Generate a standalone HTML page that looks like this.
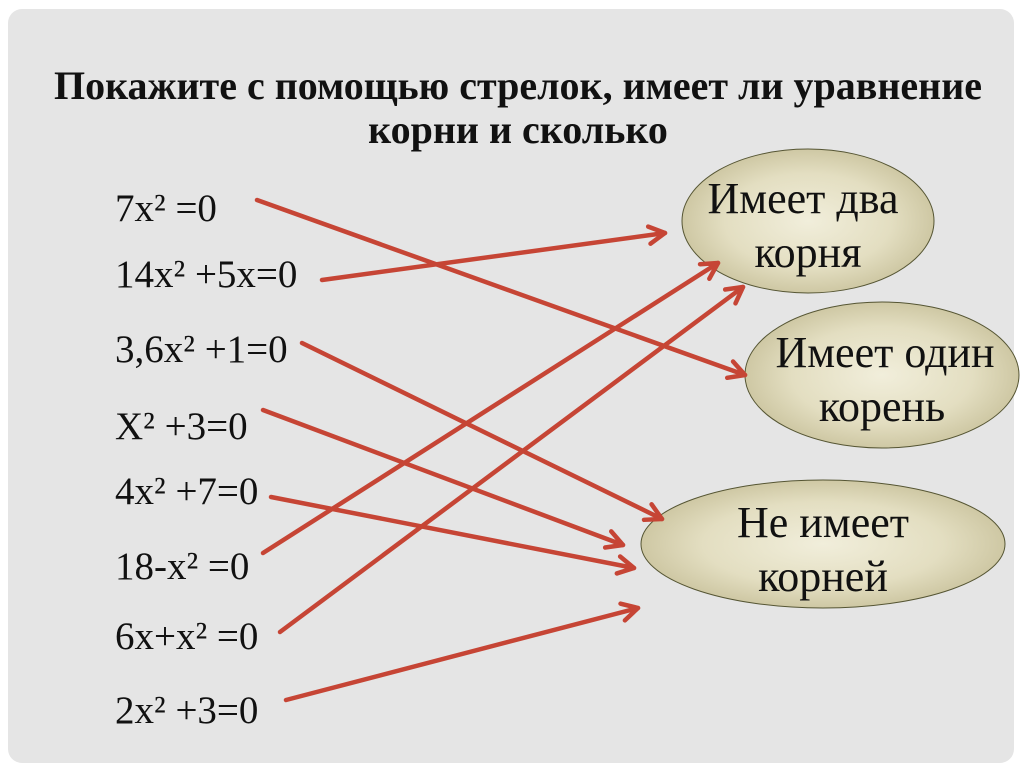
<!DOCTYPE html>
<html><head><meta charset="utf-8"><style>
html,body{margin:0;padding:0;background:#fff;}
.wrap{position:relative;width:1024px;height:767px;overflow:hidden;background:#fff;}
.panel{position:absolute;left:8px;top:9px;width:1006px;height:754px;background:#e5e5e5;border-radius:14px;}
svg{position:absolute;left:0;top:0;}
.t{font-family:"Liberation Serif",serif;}
</style></head><body><div class="wrap"><div class="panel"></div>
<svg width="1024" height="767" viewBox="0 0 1024 767">
<defs>
<radialGradient id="g" cx="50%" cy="50%" r="55%">
<stop offset="0" stop-color="#f1eedb"/><stop offset="0.6" stop-color="#e3dec1"/><stop offset="1" stop-color="#c8c19b"/>
</radialGradient>
</defs>
<g class="t" font-weight="bold" font-size="40" text-anchor="middle" fill="#111">
<text x="518" y="99">Покажите с помощью стрелок, имеет ли уравнение</text>
<text x="518" y="143">корни  и сколько</text>
</g>
<g stroke="#555533" stroke-width="1" fill="url(#g)">
<ellipse cx="808" cy="221" rx="126" ry="72"/>
<ellipse cx="882" cy="375" rx="137" ry="73"/>
<ellipse cx="823" cy="544" rx="182" ry="64"/>
</g>
<g class="t" font-size="44" text-anchor="middle" fill="#111">
<text x="803" y="213">Имеет два</text>
<text x="808" y="267">корня</text>
<text x="885" y="367">Имеет один</text>
<text x="882" y="421">корень</text>
<text x="823" y="537">Не имеет</text>
<text x="823" y="591">корней</text>
</g>
<g class="t" font-size="39" fill="#111">
<text x="115" y="221">7x² =0</text>
<text x="115" y="287">14x² +5x=0</text>
<text x="115" y="362">3,6x² +1=0</text>
<text x="115" y="439">X² +3=0</text>
<text x="115" y="504">4x² +7=0</text>
<text x="115" y="579">18-x² =0</text>
<text x="115" y="649">6x+x² =0</text>
<text x="115" y="723">2x² +3=0</text>
</g>
<g stroke="#c64535" stroke-width="4.5" fill="none" stroke-linecap="round" stroke-linejoin="round" id="arr"></g>
</svg>
<script>
var A=[[257,200,745,375],[322,280,665,233],[302,343,662,519],[263,410,623,545],[271,497,634,568],[263,553,718,263],[280,632,743,287],[286,700,638,608]];
var g=document.getElementById('arr'),ns='http://www.w3.org/2000/svg';
A.forEach(function(a){var l=document.createElementNS(ns,'line');l.setAttribute('x1',a[0]);l.setAttribute('y1',a[1]);l.setAttribute('x2',a[2]);l.setAttribute('y2',a[3]);g.appendChild(l);
var ang=Math.atan2(a[3]-a[1],a[2]-a[0]),L=18,s=0.5;
var p=document.createElementNS(ns,'polyline');
var x1=a[2]-L*Math.cos(ang-s),y1=a[3]-L*Math.sin(ang-s),x2=a[2]-L*Math.cos(ang+s),y2=a[3]-L*Math.sin(ang+s);
p.setAttribute('points',x1+','+y1+' '+a[2]+','+a[3]+' '+x2+','+y2);g.appendChild(p);});
</script>
</div></body></html>
